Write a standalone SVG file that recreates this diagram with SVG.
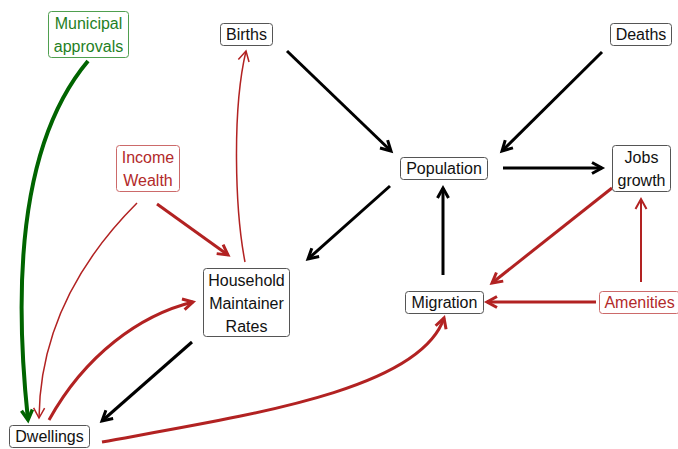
<svg xmlns="http://www.w3.org/2000/svg" width="678" height="449" viewBox="0 0 678 449">
<style>
text{font-family:"Liberation Sans",Arial,sans-serif;font-size:16px;text-anchor:middle}
.nb rect{fill:#fff;stroke:#555;stroke-width:1}
.nb text{fill:#111}
.nr rect{fill:#fff;stroke:#cc6a6a;stroke-width:1}
.nr text{fill:#b22a2a}
.ng rect{fill:#fff;stroke:#4f9f4f;stroke-width:1}
.ng text{fill:#1f7f1f}
.e{fill:none;stroke-linecap:butt}
.k{stroke:#000;stroke-width:3;marker-end:url(#ak)}
.r{stroke:#b22222;stroke-width:3;marker-end:url(#ar)}
.rt{stroke:#b22222;stroke-width:1.5;marker-end:url(#art)}
.rm{stroke:#b22222;stroke-width:2;marker-end:url(#arm)}
.g{stroke:#006400;stroke-width:4;marker-end:url(#ag)}
</style>
<defs>
<marker id="ak" markerUnits="userSpaceOnUse" viewBox="0 0 14 14" refX="12" refY="7" markerWidth="14" markerHeight="14" orient="auto" overflow="visible"><path d="M2,1.5 L12,7 L2,12.5" fill="none" stroke="#000" stroke-width="3"/></marker>
<marker id="ar" markerUnits="userSpaceOnUse" viewBox="0 0 14 14" refX="12" refY="7" markerWidth="14" markerHeight="14" orient="auto" overflow="visible"><path d="M2,1.5 L12,7 L2,12.5" fill="none" stroke="#b22222" stroke-width="3"/></marker>
<marker id="art" markerUnits="userSpaceOnUse" viewBox="0 0 14 14" refX="12" refY="7" markerWidth="14" markerHeight="14" orient="auto" overflow="visible"><path d="M2,1.5 L12,7 L2,12.5" fill="none" stroke="#b22222" stroke-width="1.5"/></marker>
<marker id="arm" markerUnits="userSpaceOnUse" viewBox="0 0 14 14" refX="12" refY="7" markerWidth="14" markerHeight="14" orient="auto" overflow="visible"><path d="M2,1.5 L12,7 L2,12.5" fill="none" stroke="#b22222" stroke-width="2"/></marker>
<marker id="ag" markerUnits="userSpaceOnUse" viewBox="0 0 14 14" refX="12" refY="7" markerWidth="14" markerHeight="14" orient="auto" overflow="visible"><path d="M2,1.5 L12,7 L2,12.5" fill="none" stroke="#006400" stroke-width="3.5"/></marker>
</defs>
<g id="connectors">
<path class="e k" d="M287,51 L391,151"/>
<path class="e k" d="M602,52 L502,151"/>
<path class="e k" d="M503,168 L602,168"/>
<path class="e k" d="M390,186 L308,259"/>
<path class="e k" d="M443,275 L443,188"/>
<path class="e k" d="M192,342 L102,421"/>
<path class="e g" d="M88,61 C30,130 10,250 28,420"/>
<path class="e r" d="M157,204 L228,255"/>
<path class="e rt" d="M137,203 C80,260 40,330 39,418"/>
<path class="e rt" d="M245,262 C235,210 232,110 246,51"/>
<path class="e r" d="M49,420 C85,355 140,315 193,302"/>
<path class="e r" d="M102,442 C250,415 420,390 444,318"/>
<path class="e r" d="M612,188 L492,283"/>
<path class="e r" d="M596,302 L487,302"/>
<path class="e rm" d="M641,282 L641,199"/>
</g>
<g id="municipal" class="ng"><rect x="48.5" y="11.5" width="80" height="46" rx="3"/><text x="88.5" y="29">Municipal</text><text x="88.5" y="52">approvals</text></g>
<g id="births" class="nb"><rect x="220.5" y="23.5" width="52" height="22" rx="3"/><text x="246.5" y="40">Births</text></g>
<g id="deaths" class="nb"><rect x="610.5" y="23.5" width="61" height="22" rx="3"/><text x="641" y="40">Deaths</text></g>
<g id="income" class="nr"><rect x="116.5" y="145.5" width="63" height="46" rx="3"/><text x="148" y="163">Income</text><text x="148" y="186">Wealth</text></g>
<g id="population" class="nb"><rect x="400.5" y="157.5" width="87" height="22" rx="3"/><text x="444" y="174">Population</text></g>
<g id="jobs" class="nb"><rect x="612.5" y="145.5" width="58" height="46" rx="3"/><text x="641.5" y="163">Jobs</text><text x="641.5" y="186">growth</text></g>
<g id="household" class="nb"><rect x="203.5" y="268.5" width="86" height="68" rx="3"/><text x="246.5" y="286">Household</text><text x="246.5" y="309">Maintainer</text><text x="246.5" y="332">Rates</text></g>
<g id="migration" class="nb"><rect x="405.5" y="291.5" width="78" height="22" rx="3"/><text x="444.5" y="308">Migration</text></g>
<g id="amenities" class="nr"><rect x="599.5" y="291.5" width="80" height="22" rx="3"/><text x="639.5" y="308">Amenities</text></g>
<g id="dwellings" class="nb"><rect x="9.5" y="425.5" width="80" height="22" rx="3"/><text x="49.5" y="442">Dwellings</text></g>
</svg>
